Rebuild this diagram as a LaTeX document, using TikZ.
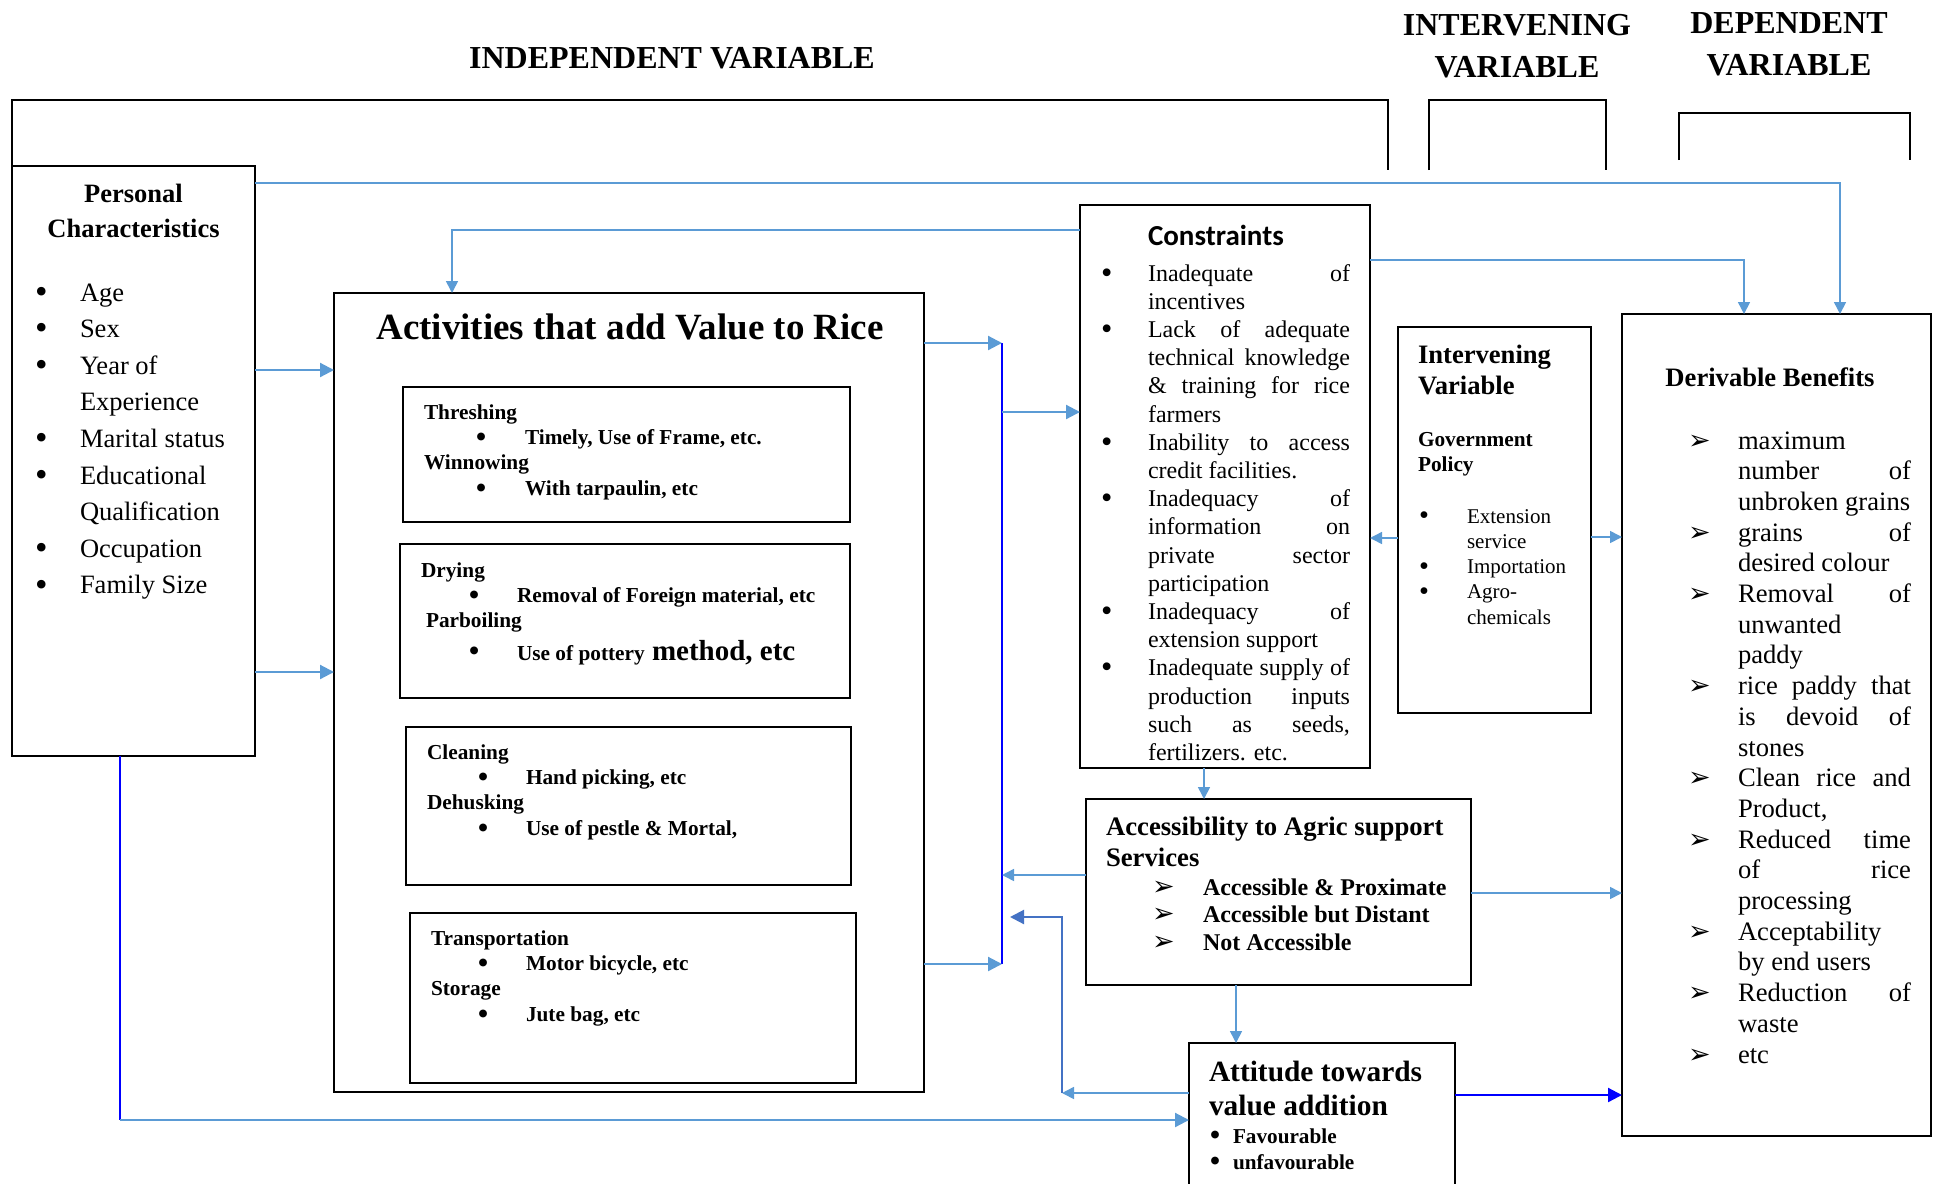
\documentclass[tikz,border=0pt]{standalone}
\usepackage{graphicx}
\usepackage{fontspec}
\setmainfont{Liberation Serif}
\newfontfamily\calib{Carlito}
\newfontfamily\dejavu{DejaVu Sans}
\usetikzlibrary{arrows.meta}

\definecolor{lblue}{HTML}{5B9BD5}
\definecolor{dblue}{HTML}{4472C4}
\definecolor{pblue}{HTML}{0000FF}

\newcommand\fs[2]{\fontsize{#1}{#2}\selectfont}
\newlength\indw \newlength\colw \newlength\bulo
\newcommand\bigbul{\raisebox{-0.09em}{\scalebox{1.35}{\textbullet}}}
\newcommand\mybul{\bigbul}
% one line of a list: heading, bulleted, continuation; j = justified
\newcommand\rowH[1]{\par\noindent#1}
\newcommand\rowB[1]{\par\noindent\hbox to\indw{\hskip\bulo\mybul\hss}#1}
\newcommand\rowBj[1]{\par\noindent\hbox to\indw{\hskip\bulo\mybul\hss}\makebox[\colw][s]{#1}}
\newcommand\rowC[1]{\par\noindent\hbox to\indw{\hss}#1}
\newcommand\rowCj[1]{\par\noindent\hbox to\indw{\hss}\makebox[\colw][s]{#1}}
\newcommand\arrowbul{{\dejavu\fs{27}{27}\char"27A2}}

\begin{document}
\begin{tikzpicture}[x=1pt,y=-1pt,
  box/.style={draw,line width=2.4pt,inner sep=0,outer sep=0,rectangle},
  ibox/.style={draw,line width=2pt,inner sep=0,outer sep=0,rectangle},
  txt/.style={inner sep=0,outer sep=0,anchor=base west},
  ctxt/.style={inner sep=0,outer sep=0,anchor=base},
  hdr/.style={inner sep=0,outer sep=0,align=center,font={\fs{32}{42}\bfseries}},
  brk/.style={line width=1.8pt,black},
  conn/.style={draw=lblue,line width=2.2pt,-{Triangle[length=14pt,width=14pt]},lblue},
  connt/.style={draw=lblue,line width=1.6pt,-{Triangle[length=12pt,width=12pt]},lblue},
  bus/.style={draw=pblue,line width=2.2pt},
]
\fill[white] (0,0) rectangle (1940,1183);
\useasboundingbox (0,0) rectangle (1940,1183);
\clip (0,0) rectangle (1940,1183);

% column headings and their brackets
\node[hdr] (indep) at (672,58) {INDEPENDENT VARIABLE};
\node[hdr] (interv) at (1517,46) {INTERVENING\\VARIABLE};
\node[hdr] (dep) at (1789,44.5) {DEPENDENT\\VARIABLE};
\draw[brk] (12,166) -- (12,100) -- (1388,100) -- (1388,170);
\draw[brk] (1429,170) -- (1429,100) -- (1606,100) -- (1606,170);
\draw[brk] (1679,160) -- (1679,113) -- (1910,113) -- (1910,160);

% boxes
\node[box,minimum width=243pt,minimum height=590pt] (pc) at (133.5,461) {};
\node[box,minimum width=590pt,minimum height=799pt] (act) at (629,692.5) {};
\node[ibox,minimum width=447pt,minimum height=135pt] (thr) at (626.5,454.5) {};
\node[ibox,minimum width=450pt,minimum height=154pt] (dry) at (625,621) {};
\node[ibox,minimum width=445pt,minimum height=158pt] (cln) at (628.5,806) {};
\node[ibox,minimum width=446pt,minimum height=170pt] (trn) at (633,998) {};
\node[box,minimum width=290pt,minimum height=563pt] (con) at (1225,486.5) {};
\node[box,minimum width=193pt,minimum height=386pt] (ivb) at (1494.5,520) {};
\node[box,minimum width=309pt,minimum height=822pt] (der) at (1776.5,725) {};
\node[box,minimum width=385pt,minimum height=186pt] (acc) at (1278.5,892) {};
\node[box,minimum width=266pt,minimum height=177pt] (att) at (1322,1131.5) {};

% personal characteristics
\node[ctxt] (pctitle) at (133.5,202) {\parbox[t]{240pt}{\centering\fs{26.5}{35}\bfseries Personal\\Characteristics}};
\node[txt] (pclist) at (35,301) {\parbox[t]{200pt}{\fs{26.5}{36.6}\setlength\indw{45pt}\setlength\bulo{0pt}%
  \rowB{Age}\rowB{Sex}\rowB{Year of}\rowC{Experience}\rowB{Marital status}%
  \rowB{Educational}\rowC{Qualification}\rowB{Occupation}\rowB{Family Size}}};

% activities
\node[ctxt] (acttitle) at (630,339) {\fs{37}{40}\bfseries Activities that add Value to Rice};
\node[txt] (thrtxt) at (424,419) {\parbox[t]{420pt}{\fs{21.3}{25.4}\bfseries\setlength\indw{101pt}\setlength\bulo{52pt}%
  \rowH{Threshing}\rowB{Timely, Use of Frame, etc.}\rowH{Winnowing}\rowB{With tarpaulin, etc}}};
\node[txt] (drytxt) at (421,577) {\parbox[t]{420pt}{\fs{21.3}{25.4}\bfseries\setlength\indw{96pt}\setlength\bulo{48pt}%
  \rowH{Drying}\rowB{Removal of Foreign material, etc}\rowH{\hspace*{5pt}Parboiling}%
  \par\fs{29}{33}\noindent\hbox to\indw{\hskip\bulo\textbullet\hss}{\fs{21.3}{33}Use of pottery} method, etc}};
\node[txt] (clntxt) at (427,759) {\parbox[t]{420pt}{\fs{21.3}{25.4}\bfseries\setlength\indw{99pt}\setlength\bulo{51pt}%
  \rowH{Cleaning}\rowB{Hand picking, etc}\rowH{Dehusking}\rowB{Use of pestle \& Mortal,}}};
\node[txt] (trntxt) at (431,945) {\parbox[t]{420pt}{\fs{21.3}{25.4}\bfseries\setlength\indw{95pt}\setlength\bulo{47pt}%
  \rowH{Transportation}\rowB{Motor bicycle, etc}\rowH{Storage}\rowB{Jute bag, etc}}};

% constraints
\node[txt] (contitle) at (1148,245) {\calib\bfseries\fs{29}{30}Constraints};
\node[txt] (conlist) at (1101,281) {\parbox[t]{250pt}{\fs{24}{28.2}\setlength\indw{47pt}\setlength\colw{202pt}\setlength\bulo{0pt}\lineskiplimit=-100pt%
  \rowBj{Inadequate of}\rowC{incentives}%
  \rowBj{Lack of adequate}\rowCj{technical knowledge}\rowCj{\& training for rice}\rowC{farmers}%
  \rowBj{Inability to access}\rowC{credit facilities.}%
  \rowBj{Inadequacy of}\rowCj{information on}\rowCj{private sector}\rowC{participation}%
  \rowBj{Inadequacy of}\rowC{extension support}%
  \rowBj{Inadequate supply of}\rowCj{production inputs}\rowCj{such as seeds,}\rowC{fertilizers. etc.}}};

% intervening variable
\node[txt] (ivbtitle) at (1418,363) {\parbox[t]{170pt}{\fs{26.6}{31}\bfseries Intervening\\Variable}};
\node[txt] (ivbgov) at (1418,446) {\parbox[t]{170pt}{\fs{21.3}{25}\bfseries Government\\Policy}};
\node[txt] (ivblist) at (1419,523) {\parbox[t]{170pt}{\fs{21}{25.3}\setlength\indw{48pt}\setlength\bulo{0pt}%
  \rowB{Extension}\rowC{service}\rowB{Importation}\rowB{Agro-}\rowC{chemicals}}};

% derivable benefits
\node[ctxt] (dertitle) at (1770,386) {\fs{26.6}{30}\bfseries Derivable Benefits};
\node[txt] (derlist) at (1688,449) {\parbox[t]{226pt}{\fs{26.6}{30.7}\renewcommand\mybul{\arrowbul}\setlength\indw{50pt}\setlength\colw{173pt}\setlength\bulo{0pt}\lineskiplimit=-100pt%
  \rowB{maximum}\rowCj{number of}\rowC{unbroken grains}%
  \rowBj{grains of}\rowC{desired colour}%
  \rowBj{Removal of}\rowC{unwanted}\rowC{paddy}%
  \rowBj{rice paddy that}\rowCj{is devoid of}\rowC{stones}%
  \rowBj{Clean rice and}\rowC{Product,}%
  \rowBj{Reduced time}\rowCj{of rice}\rowC{processing}%
  \rowB{Acceptability}\rowC{by end users}%
  \rowBj{Reduction of}\rowC{waste}%
  \rowB{etc}}};

% accessibility to agric support services
\node[txt] (acctitle) at (1106,835) {\parbox[t]{360pt}{\fs{26.7}{31}\bfseries Accessibility to Agric support\\Services}};
\node[txt] (acclist) at (1152,895) {\parbox[t]{300pt}{\fs{24}{27.5}\bfseries\renewcommand\mybul{\arrowbul}\setlength\indw{51pt}\setlength\bulo{0pt}\lineskiplimit=-100pt%
  \rowB{Accessible \& Proximate}\rowB{Accessible but Distant}\rowB{Not Accessible}}};

% attitude towards value addition
\node[txt] (atttitle) at (1209,1081) {\parbox[t]{240pt}{\fs{29.4}{34}\bfseries Attitude towards\\value addition}};
\node[txt] (attlist) at (1210,1143) {\parbox[t]{240pt}{\fs{21.2}{26}\bfseries\setlength\indw{23pt}\setlength\bulo{0pt}%
  \rowB{Favourable}\rowB{unfavourable}}};

% connectors
\coordinate (busT) at (1002,343);
\coordinate (busB) at (1002,964);
\coordinate (elb) at (1062,1093);
\coordinate (elbT) at (1010,917);
\coordinate (pcb) at (120,1120);

\draw[connt] (pc.east |- 0,183) -| (der.north -| 1840,0);
\draw[connt] (con.east |- 0,260) -| (der.north -| 1744,0);
\draw[connt] (con.west |- 0,230) -| (act.north -| 452,0);
\draw[conn] (pc.east |- 0,370) -- (act.west |- 0,370);
\draw[conn] (pc.east |- 0,672) -- (act.west |- 0,672);
\draw[bus] (busT) -- (busB);
\draw[conn] (act.east |- busT) -- (busT);
\draw[conn] (act.east |- busB) -- (busB);
\draw[conn] (busT |- 0,412) -- (con.west |- 0,412);
\draw[connt] (acc.west |- 0,875) -- (busT |- 0,875);
\draw[connt] (att.west |- elb) -- (elb);
\draw[draw=dblue,line width=2.2pt,-{Triangle[length=14pt,width=14pt]},dblue] (elb) |- (elbT);
\draw[bus] (pc.south -| pcb) -- (pcb);
\draw[conn] (pcb) -- (att.west |- pcb);
\draw[connt] (con.south -| 1204,0) -- (acc.north -| 1204,0);
\draw[connt] (acc.south -| 1236,0) -- (att.north -| 1236,0);
\draw[connt] (acc.east |- 0,893) -- (der.west |- 0,893);
\draw[bus,-{Triangle[length=14pt,width=14pt]},pblue] (att.east |- 0,1095) -- (der.west |- 0,1095);
\draw[connt] (ivb.west |- 0,538) -- (con.east |- 0,538);
\draw[connt] (ivb.east |- 0,537) -- (der.west |- 0,537);
\end{tikzpicture}
\end{document}
